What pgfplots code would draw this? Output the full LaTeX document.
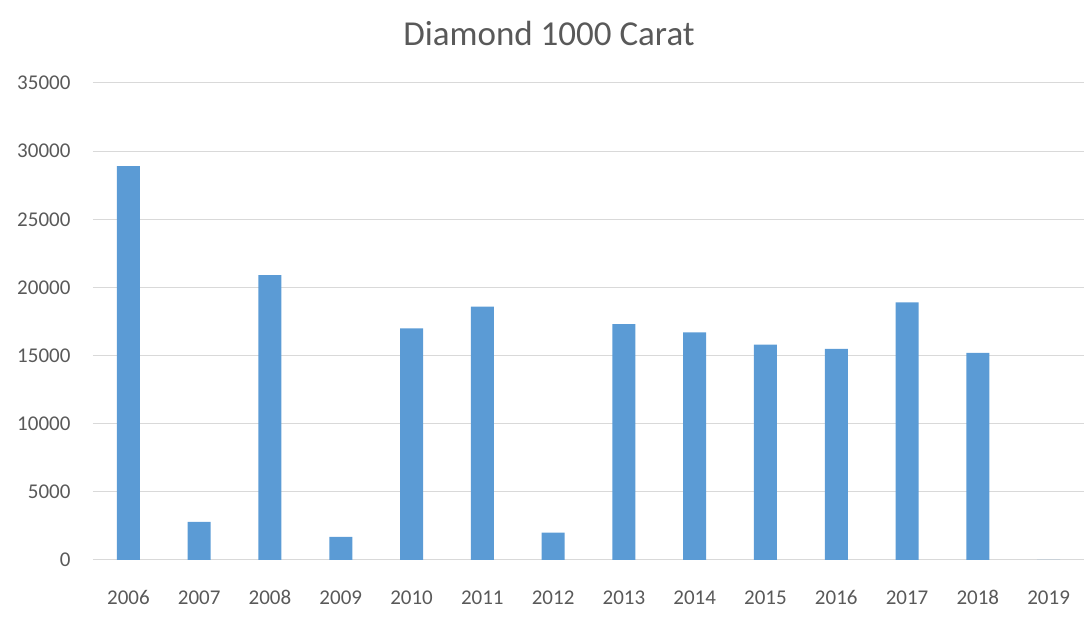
\documentclass[border=0pt]{standalone}
\usepackage{pgfplots}
\pgfplotsset{compat=1.18}
\usepackage{fontspec}
\setmainfont{Carlito}
\definecolor{barblue}{HTML}{5B9BD5}
\definecolor{gridgray}{HTML}{D9D9D9}
\definecolor{txtgray}{HTML}{595959}
\begin{document}
\begin{tikzpicture}[x=1pt,y=1pt]
\useasboundingbox (0,0) rectangle (1085,626);
\begin{axis}[
  at={(93pt,66pt)}, anchor=south west,
  scale only axis, width=991pt, height=477pt,
  xmin=-0.5, xmax=13.5, ymin=0, ymax=35000,
  xtick={0,...,13},
  xticklabels={2006,2007,2008,2009,2010,2011,2012,2013,2014,2015,2016,2017,2018,2019},
  ytick={0,5000,...,35000},
  scaled y ticks=false,
  /pgf/number format/.cd, set thousands separator={}, assume math mode=true,
  /pgfplots/.cd,
  ymajorgrids, grid style={gridgray, line width=1pt},
  axis x line*=bottom, axis y line*=left,
  x axis line style={gridgray, line width=1pt, -},
  y axis line style={draw=none},
  major tick length=0pt,
  tick style={draw=none},
  ticklabel style={font=\fontsize{21}{24}\selectfont, text=txtgray},
  yticklabel style={anchor=east, xshift=-19pt},
  xticklabel style={anchor=base, yshift=-45pt},
  ybar, bar width=23pt,
  clip=false,
]
\addplot[fill=barblue, draw=none] coordinates {
  (0,28900) (1,2800) (2,20900) (3,1700) (4,17000) (5,18600) (6,2000)
  (7,17300) (8,16700) (9,15800) (10,15500) (11,18900) (12,15200) (13,0)
};
\end{axis}
\node[text=txtgray, font=\fontsize{35}{40}\selectfont] at (549,593) {Diamond 1000 Carat};
\end{tikzpicture}
\end{document}
